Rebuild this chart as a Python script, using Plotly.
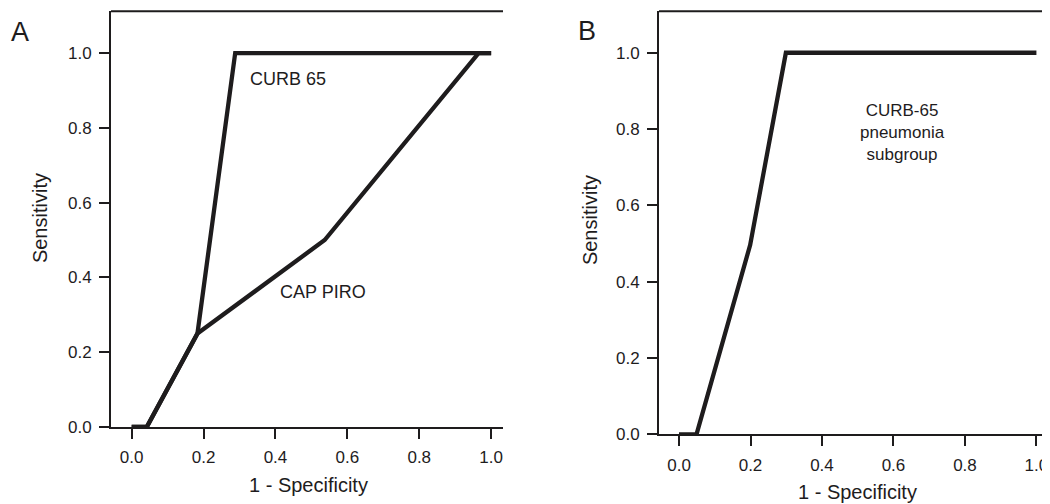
import plotly.graph_objects as go

# ---- data ----
fpr_curb65_a = [0.0, 0.042, 0.183, 0.288, 1.0]
sens_curb65_a = [0.0, 0.0, 0.25, 1.0, 1.0]

fpr_cappiro_a = [0.0, 0.042, 0.183, 0.537, 0.965, 1.0]
sens_cappiro_a = [0.0, 0.0, 0.25, 0.5, 1.0, 1.0]

fpr_curb65_b = [0.0, 0.049, 0.199, 0.299, 1.0]
sens_curb65_b = [0.0, 0.0, 0.496, 1.0, 1.0]

tick_vals = [0.0, 0.2, 0.4, 0.6, 0.8, 1.0]
tick_text = ["0.0", "0.2", "0.4", "0.6", "0.8", "1.0"]

INK = "#1e1c1d"
FONT = "Liberation Sans, Arial, Helvetica, sans-serif"

OFF = 8            # page body margin
YS = 514 / 504     # vertical factor observed between page and picture
W, H = 1050 - OFF, 506


def px(X):
    """target picture x pixel -> paper fraction"""
    return (X - OFF) / W


def py(Y):
    """target picture y pixel (from top) -> paper fraction (from bottom)"""
    return 1 - (Y * YS - OFF) / H


fig = go.Figure()
line_style = dict(color=INK, width=4.3)
fig.add_trace(go.Scatter(x=fpr_cappiro_a, y=sens_cappiro_a, mode="lines",
                         line=line_style, xaxis="x", yaxis="y", showlegend=False,
                         name="CAP PIRO"))
fig.add_trace(go.Scatter(x=fpr_curb65_a, y=sens_curb65_a, mode="lines",
                         line=line_style, xaxis="x", yaxis="y", showlegend=False,
                         name="CURB 65"))
fig.add_trace(go.Scatter(x=fpr_curb65_b, y=sens_curb65_b, mode="lines",
                         line=line_style, xaxis="x2", yaxis="y2", showlegend=False,
                         name="CURB-65 pneumonia subgroup"))

axis_common = dict(
    showgrid=False, zeroline=False, showline=True, linecolor=INK, linewidth=2,
    ticks="outside", ticklen=10, tickwidth=2, tickcolor=INK,
    tickvals=tick_vals, ticktext=tick_text,
    tickfont=dict(family=FONT, size=17, color=INK),
    ticklabelstandoff=4,
)

fig.update_layout(
    width=W, height=H,
    margin=dict(l=0, r=0, t=0, b=0),
    paper_bgcolor="white", plot_bgcolor="white",
    font=dict(family=FONT, color=INK),
    xaxis=dict(domain=[px(111), px(503)], range=[-0.0575, 1.033], anchor="y", **axis_common),
    yaxis=dict(domain=[py(427), py(11)], range=[0, 1.112], anchor="x", **axis_common),
    xaxis2=dict(domain=[px(659), 1.0], range=[-0.056, 1.038], anchor="y2", **axis_common),
    yaxis2=dict(domain=[py(434.3), py(11)], range=[0, 1.109], anchor="x2", **axis_common),
)

# top spines (no right spine in the reference)
for xr, yr in (("x domain", "y domain"), ("x2 domain", "y2 domain")):
    fig.add_shape(type="line", xref=xr, yref=yr, x0=0, x1=1, y0=1, y1=1,
                  line=dict(color=INK, width=2))


def note(text, x, y, size, xref="paper", yref="paper", angle=0):
    return dict(text=text, x=x, y=y, xref=xref, yref=yref, showarrow=False,
                xanchor="center", yanchor="middle", textangle=angle,
                font=dict(size=size, family=FONT, color=INK))


ann = [
    note("1 - Specificity", px(308), py(485), 20),
    note("1 - Specificity", px(857), py(492), 20),
    note("Sensitivity", px(40), py(218), 20, angle=-90),
    note("Sensitivity", px(590), py(220), 20, angle=-90),
    note("A", px(20), py(31.7), 27),
    note("B", px(587), py(30.7), 27),
    note("CURB 65", 0.434, 0.93, 18, "x", "y"),
    note("CAP PIRO", 0.531, 0.361, 18, "x", "y"),
    note("CURB-65<br>pneumonia<br>subgroup", 0.626, 0.79, 17, "x2", "y2"),
]
fig.update_layout(annotations=ann)

fig.write_html("out.html")
